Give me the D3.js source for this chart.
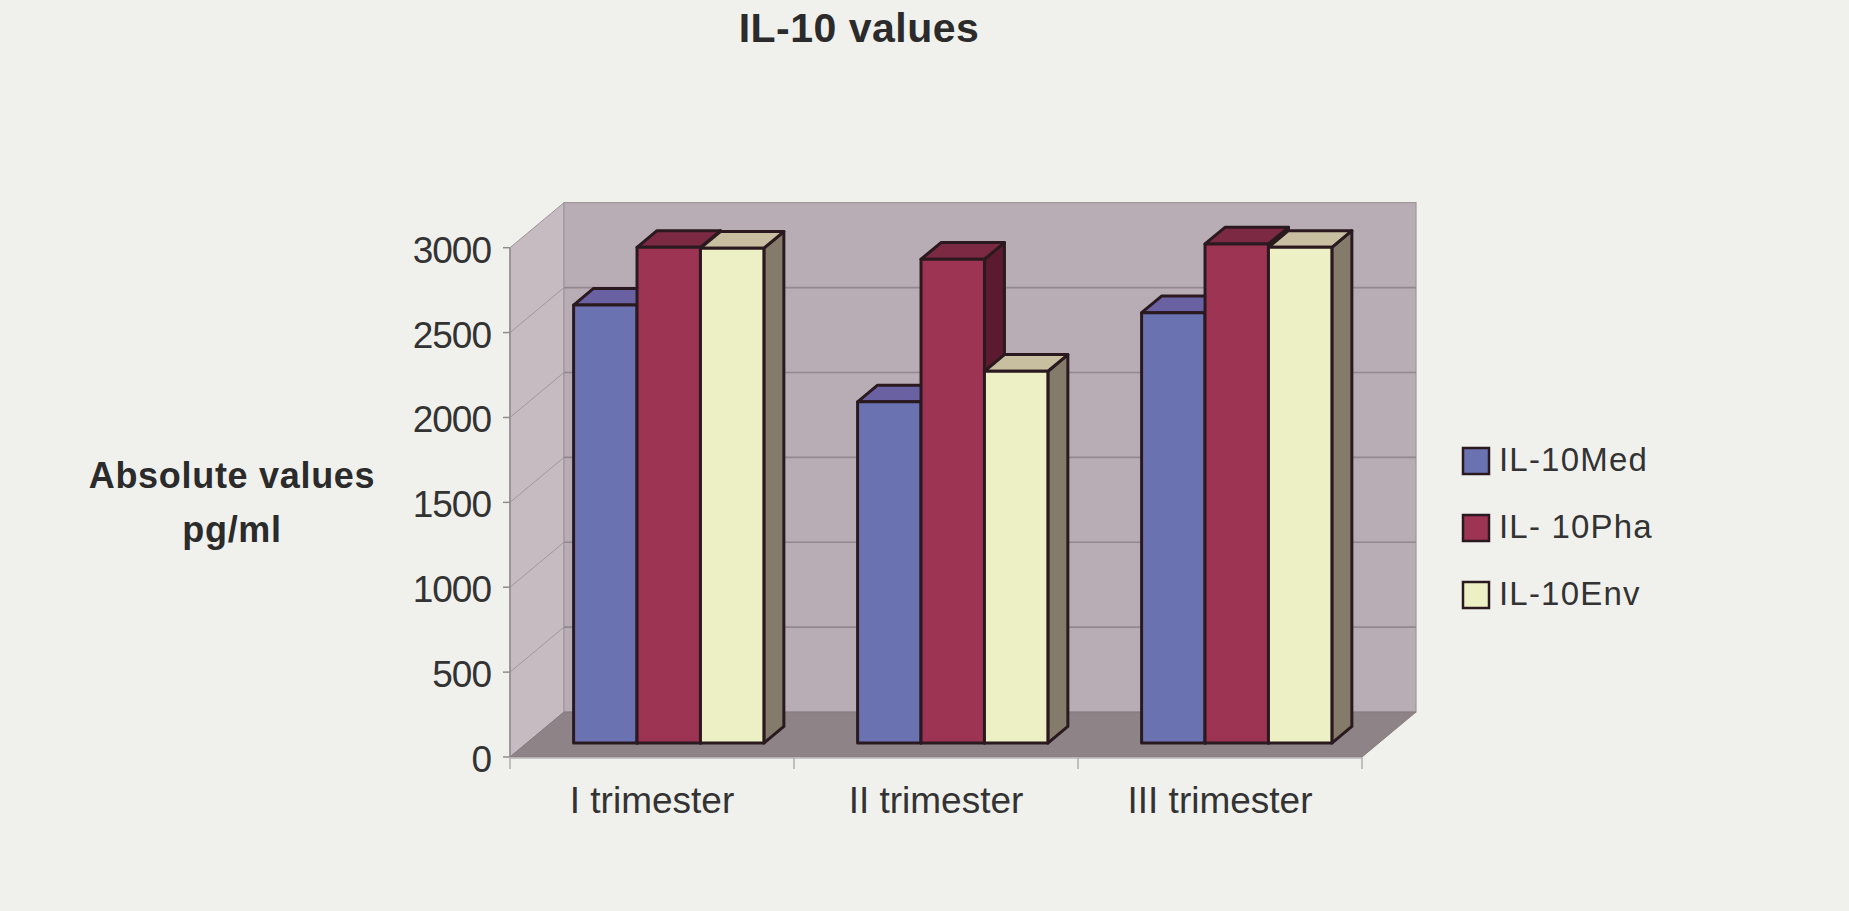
<!DOCTYPE html>
<html>
<head>
<meta charset="utf-8">
<script src="https://cdn.jsdelivr.net/npm/d3@7"></script>
<style>
  html, body { margin: 0; padding: 0; background: #f0f1ed; }
  svg { display: block; font-family: "Liberation Sans", Arial, sans-serif; }
</style>
</head>
<body>
<svg id="chart" width="1849" height="911"></svg>
<script>
// --- Data
const categories = ['I trimester', 'II trimester', 'III trimester'];
const seriesNames = ['IL-10Med', 'IL- 10Pha', 'IL-10Env'];
const medValues = [2580, 2010, 2535];
const phaValues = [2920, 2850, 2940];
const envValues = [2915, 2190, 2920];
const yTicks = [0, 500, 1000, 1500, 2000, 2500, 3000];

const series = [
  { name: seriesNames[0], values: medValues, front: '#6b72b2', top: '#6a61a3', side: '#474a80' },
  { name: seriesNames[1], values: phaValues, front: '#9d3453', top: '#7c2944', side: '#5b1a2f' },
  { name: seriesNames[2], values: envValues, front: '#edf0c5', top: '#c8bfa1', side: '#847b6b' }
];

// --- Geometry
const svg = d3.select('#chart');
const DX = 54, DY = -45;          // full depth offset of the plot box
const zFront = 0.31, zBack = 0.68; // bar depth inside the box

const x = d3.scaleBand().domain(categories).range([510, 1362]);
const y = d3.scaleLinear().domain([0, 3000]).range([757, 247.7]);
const groupW = x.bandwidth() * 0.67;
const xs = d3.scaleBand().domain(seriesNames).range([0, groupW]);

const P = (px, v, z) => [px + z * DX, y(v) + z * DY];
const poly = pts => 'M' + pts.map(p => p.join(',')).join('L') + 'Z';

const x0 = x.range()[0], x1 = x.range()[1];
const yMax = y.domain()[1];

// --- Walls
const g = svg.append('g');
// side wall
g.append('path')
  .attr('d', poly([P(x0, 0, 0), P(x0, yMax, 0), P(x0, yMax, 1), P(x0, 0, 1)]))
  .attr('fill', '#c5bbc1').attr('stroke', '#9c9399').attr('stroke-width', 1);
// back wall
g.append('path')
  .attr('d', poly([P(x0, 0, 1), P(x0, yMax, 1), P(x1, yMax, 1), P(x1, 0, 1)]))
  .attr('fill', '#b8adb5').attr('stroke', '#a0979d').attr('stroke-width', 1.2);

// gridlines
const grid = yTicks.filter(t => t > 0 && t < yMax);
g.selectAll('line.gback').data(grid).join('line')
  .attr('x1', d => P(x0, d, 1)[0]).attr('y1', d => P(x0, d, 1)[1])
  .attr('x2', d => P(x1, d, 1)[0]).attr('y2', d => P(x1, d, 1)[1])
  .attr('stroke', '#928890').attr('stroke-width', 1.6);
g.selectAll('line.gside').data(grid).join('line')
  .attr('x1', d => P(x0, d, 0)[0]).attr('y1', d => P(x0, d, 0)[1])
  .attr('x2', d => P(x0, d, 1)[0]).attr('y2', d => P(x0, d, 1)[1])
  .attr('stroke', '#a0979d').attr('stroke-width', 1);

// floor
g.append('path')
  .attr('d', poly([P(x0, 0, 0), P(x1, 0, 0), P(x1, 0, 1), P(x0, 0, 1)]))
  .attr('fill', '#8e8387').attr('stroke', '#857b80').attr('stroke-width', 1);

// --- Axes
const axisColor = '#8d8d8d';
svg.append('line')
  .attr('x1', x0).attr('x2', x0).attr('y1', y(0)).attr('y2', y(yMax))
  .attr('stroke', axisColor).attr('stroke-width', 1.5);
svg.append('line')
  .attr('x1', x0).attr('x2', x1).attr('y1', y(0) + 1).attr('y2', y(0) + 1)
  .attr('stroke', '#b9b4b6').attr('stroke-width', 1.5);

svg.selectAll('line.ytick').data(yTicks).join('line')
  .attr('x1', x0 - 7).attr('x2', x0).attr('y1', d => y(d)).attr('y2', d => y(d))
  .attr('stroke', axisColor).attr('stroke-width', 1.5);
svg.selectAll('text.ylab').data(yTicks).join('text')
  .attr('x', 491).attr('y', d => y(d) + 15)
  .attr('text-anchor', 'end').attr('font-size', 37).attr('fill', '#333')
  .attr('letter-spacing', -1)
  .text(d => d);

const catEdges = categories.map(c => x(c)).concat([x1]);
svg.selectAll('line.xtick').data(catEdges).join('line')
  .attr('x1', d => d).attr('x2', d => d).attr('y1', y(0)).attr('y2', y(0) + 12)
  .attr('stroke', '#b0acae').attr('stroke-width', 1.5);
svg.selectAll('text.xlab').data(categories).join('text')
  .attr('x', d => x(d) + x.bandwidth() / 2).attr('y', 813)
  .attr('text-anchor', 'middle').attr('font-size', 37).attr('fill', '#333')
  .text(d => d);

// --- Bars (3D boxes)
const bars = svg.append('g')
  .attr('stroke', '#2a1a20').attr('stroke-width', 3).attr('stroke-linejoin', 'round');

categories.forEach((cat, ci) => {
  const gx = x(cat) + (x.bandwidth() - groupW) / 2;
  series.forEach(s => {
    const v = s.values[ci];
    const l = gx + xs(s.name), r = l + xs.bandwidth();
    // side face
    bars.append('path')
      .attr('d', poly([P(r, 0, zFront), P(r, v, zFront), P(r, v, zBack), P(r, 0, zBack)]))
      .attr('fill', s.side);
    // top face
    bars.append('path')
      .attr('d', poly([P(l, v, zFront), P(r, v, zFront), P(r, v, zBack), P(l, v, zBack)]))
      .attr('fill', s.top);
    // front face
    bars.append('path')
      .attr('d', poly([P(l, 0, zFront), P(r, 0, zFront), P(r, v, zFront), P(l, v, zFront)]))
      .attr('fill', s.front);
  });
});

// --- Titles
svg.append('text')
  .attr('x', 859).attr('y', 42).attr('text-anchor', 'middle')
  .attr('font-size', 41).attr('font-weight', 'bold').attr('letter-spacing', 0.5)
  .attr('fill', '#2b2b2b').text('IL-10 values');

const yTitle = svg.append('text')
  .attr('text-anchor', 'middle').attr('font-size', 36).attr('font-weight', 'bold')
  .attr('letter-spacing', 0.7).attr('fill', '#2b2b2b');
yTitle.append('tspan').attr('x', 232).attr('y', 488).text('Absolute values');
yTitle.append('tspan').attr('x', 232).attr('y', 542).text('pg/ml');

// --- Legend
const legend = svg.append('g').attr('transform', 'translate(1463,448)');
const rows = legend.selectAll('g').data(series).join('g')
  .attr('transform', (d, i) => `translate(0,${i * 67})`);
rows.append('rect')
  .attr('width', 26).attr('height', 26)
  .attr('fill', d => d.front).attr('stroke', '#2a1a20').attr('stroke-width', 2.5);
rows.append('text')
  .attr('x', 36).attr('y', 23).attr('font-size', 33).attr('letter-spacing', 1.2)
  .attr('fill', '#333').text(d => d.name);
</script>
</body>
</html>
